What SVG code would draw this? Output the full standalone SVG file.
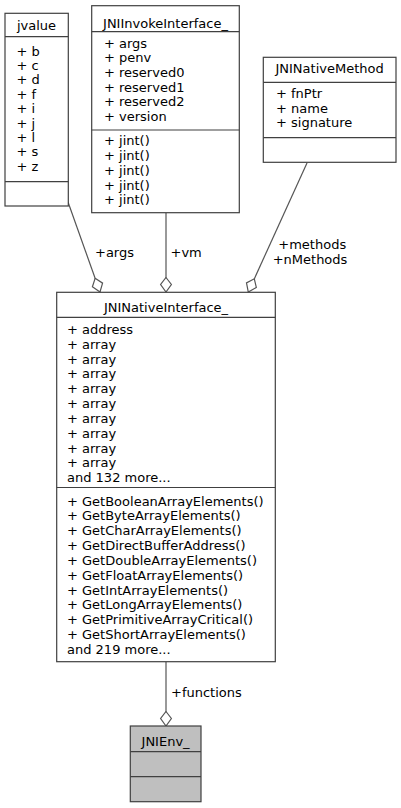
<svg xmlns="http://www.w3.org/2000/svg" width="401" height="808" viewBox="0 0 401 808">
<style>
text{font-family:"DejaVu Sans","Liberation Sans",sans-serif;font-size:13px;fill:#000}
.c{text-anchor:middle}
.box{fill:#fff;stroke:#404040;stroke-width:1.2}
.gray{fill:#bfbfbf}
.sep{stroke:#404040;stroke-width:1.2}
.edge{fill:none;stroke:#555;stroke-width:1.2}
</style>
<defs>
<marker id="odia" markerUnits="userSpaceOnUse" markerWidth="18" markerHeight="14" refX="15" refY="6" orient="auto" viewBox="0 0 18 12">
<path d="M0.5,6 L7.5,0.6 L15,6 L7.5,11.4 Z" fill="#fff" stroke="#555" stroke-width="1.2"/>
</marker>
</defs>
<rect width="401" height="808" fill="#fff"/>
<g id="edges">
<path class="edge" d="M68,202 L100,292" marker-end="url(#odia)"/>
<path class="edge" d="M166,213 L166,292" marker-end="url(#odia)"/>
<path class="edge" d="M307,163 L248.3,292" marker-end="url(#odia)"/>
<path class="edge" d="M166,662 L166,726" marker-end="url(#odia)"/>
<text x="95" y="256.5">+args</text>
<text x="170.5" y="256.5">+vm</text>
<text x="278.3" y="248.8">+methods</text>
<text x="272.7" y="264.2">+nMethods</text>
<text x="171" y="696.5">+functions</text>
</g>
<g id="jvalue">
<rect class="box" x="5" y="13.3" width="63.3" height="192.7"/>
<line class="sep" x1="5" y1="36.7" x2="68.3" y2="36.7"/>
<line class="sep" x1="5" y1="181.7" x2="68.3" y2="181.7"/>
<text class="c" x="36.5" y="29.5">jvalue</text>
<text x="16.5" y="55.5">+ b</text>
<text x="16.5" y="69.9">+ c</text>
<text x="16.5" y="84.3">+ d</text>
<text x="16.5" y="98.7">+ f</text>
<text x="16.5" y="113.1">+ i</text>
<text x="16.5" y="127.5">+ j</text>
<text x="16.5" y="141.9">+ l</text>
<text x="16.5" y="156.3">+ s</text>
<text x="16.5" y="170.7">+ z</text>
</g>
<g id="JNIInvokeInterface_">
<rect class="box" x="91.7" y="5.7" width="147.6" height="207"/>
<line class="sep" x1="91.7" y1="31.7" x2="239.3" y2="31.7"/>
<line class="sep" x1="91.7" y1="130" x2="239.3" y2="130"/>
<text class="c" x="165.5" y="27.5">JNIInvokeInterface_</text>
<text x="104" y="47.5">+ args</text>
<text x="104" y="62.2">+ penv</text>
<text x="104" y="76.9">+ reserved0</text>
<text x="104" y="91.6">+ reserved1</text>
<text x="104" y="106.3">+ reserved2</text>
<text x="104" y="121">+ version</text>
<text x="104" y="145.2">+ jint()</text>
<text x="104" y="160">+ jint()</text>
<text x="104" y="174.8">+ jint()</text>
<text x="104" y="189.6">+ jint()</text>
<text x="104" y="204.4">+ jint()</text>
</g>
<g id="JNINativeMethod">
<rect class="box" x="263.3" y="57.3" width="132.7" height="105"/>
<line class="sep" x1="263.3" y1="82.3" x2="396" y2="82.3"/>
<line class="sep" x1="263.3" y1="137.7" x2="396" y2="137.7"/>
<text class="c" x="329.6" y="72.8">JNINativeMethod</text>
<text x="276" y="97.8">+ fnPtr</text>
<text x="276" y="112.8">+ name</text>
<text x="276" y="127.2">+ signature</text>
</g>
<g id="JNINativeInterface_">
<rect class="box" x="56.7" y="292.3" width="218.6" height="369.4"/>
<line class="sep" x1="56.7" y1="317.3" x2="275.3" y2="317.3"/>
<line class="sep" x1="56.7" y1="487.5" x2="275.3" y2="487.5"/>
<text class="c" x="166" y="312">JNINativeInterface_</text>
<text x="67" y="333.8">+ address</text>
<text x="67" y="348.6">+ array</text>
<text x="67" y="363.5">+ array</text>
<text x="67" y="378.3">+ array</text>
<text x="67" y="393.2">+ array</text>
<text x="67" y="408">+ array</text>
<text x="67" y="422.8">+ array</text>
<text x="67" y="437.7">+ array</text>
<text x="67" y="452.5">+ array</text>
<text x="67" y="467.4">+ array</text>
<text x="67" y="482.2">and 132 more...</text>
<text x="67" y="505.5">+ GetBooleanArrayElements()</text>
<text x="67" y="520.3">+ GetByteArrayElements()</text>
<text x="67" y="535.2">+ GetCharArrayElements()</text>
<text x="67" y="550">+ GetDirectBufferAddress()</text>
<text x="67" y="564.8">+ GetDoubleArrayElements()</text>
<text x="67" y="579.7">+ GetFloatArrayElements()</text>
<text x="67" y="594.5">+ GetIntArrayElements()</text>
<text x="67" y="609.3">+ GetLongArrayElements()</text>
<text x="67" y="624.1">+ GetPrimitiveArrayCritical()</text>
<text x="67" y="639">+ GetShortArrayElements()</text>
<text x="67" y="653.8">and 219 more...</text>
</g>
<g id="JNIEnv_">
<rect class="box gray" x="130.3" y="726" width="70.7" height="75.7"/>
<line class="sep" x1="130.3" y1="751.7" x2="201" y2="751.7"/>
<line class="sep" x1="130.3" y1="776.7" x2="201" y2="776.7"/>
<text class="c" x="165.6" y="746.2">JNIEnv_</text>
</g>
</svg>
